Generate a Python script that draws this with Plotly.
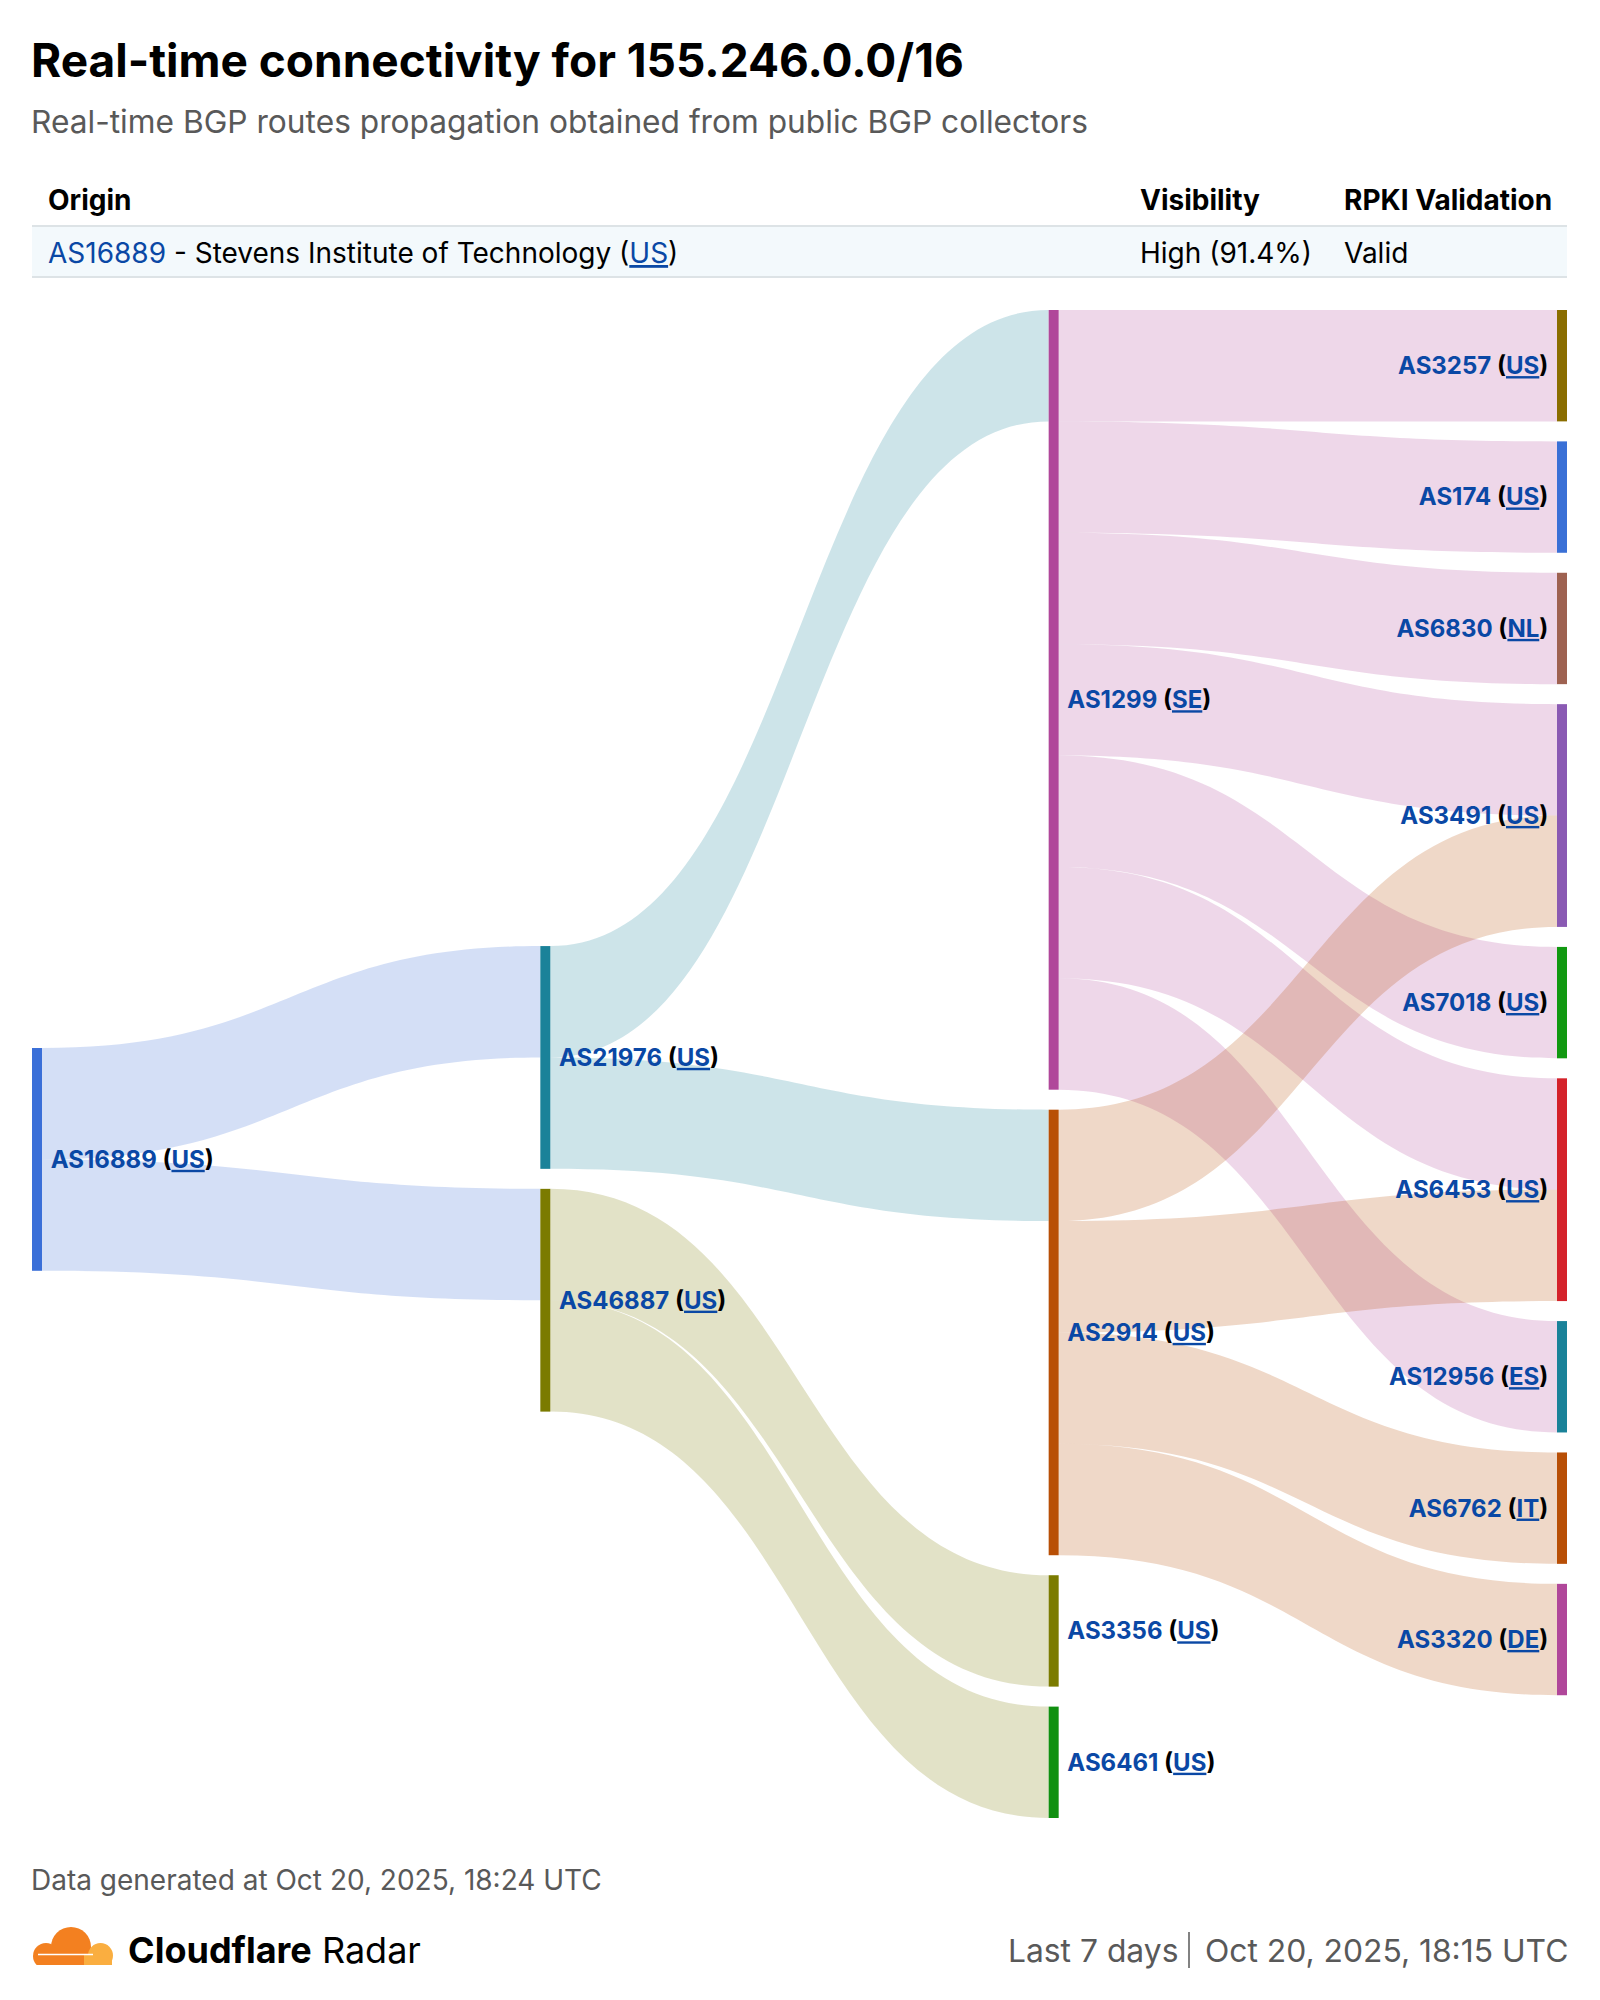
import plotly.graph_objects as go

# ---------------- data ----------------
node_asns = ["AS16889", "AS21976", "AS46887", "AS1299", "AS2914", "AS3356", "AS6461",
             "AS3257", "AS174", "AS6830", "AS3491", "AS7018", "AS6453", "AS12956",
             "AS6762", "AS3320"]
node_countries = ["US", "US", "US", "SE", "US", "US", "US",
                  "US", "US", "NL", "US", "US", "US", "ES", "IT", "DE"]
node_colors = ["#3A6FD8", "#1A8299", "#7B7B00", "#B0479A", "#B84F06", "#7B7B00", "#109010",
               "#8A6D00", "#3A70D6", "#9E6251", "#8A5AB3", "#119911", "#D4222A", "#1A8299",
               "#B84F06", "#B0479A"]

link_source = ["AS16889", "AS16889", "AS21976", "AS21976", "AS46887", "AS46887",
               "AS1299", "AS1299", "AS1299", "AS1299", "AS1299", "AS1299", "AS1299",
               "AS2914", "AS2914", "AS2914", "AS2914"]
link_target = ["AS21976", "AS46887", "AS1299", "AS2914", "AS3356", "AS6461",
               "AS3257", "AS174", "AS6830", "AS3491", "AS7018", "AS6453", "AS12956",
               "AS3491", "AS6453", "AS6762", "AS3320"]
link_value = [1, 1, 1, 1, 1, 1,
              1, 1, 1, 1, 1, 1, 1,
              1, 1, 1, 1]

title_text = "Real-time connectivity for 155.246.0.0/16"
subtitle_text = "Real-time BGP routes propagation obtained from public BGP collectors"
origin_asn = "AS16889"
origin_name = "Stevens Institute of Technology"
origin_country = "US"
visibility_text = "High (91.4%)"
rpki_text = "Valid"
generated_text = "Data generated at Oct 20, 2025, 18:24 UTC"
range_left = "Last 7 days"
range_right = "Oct 20, 2025, 18:15 UTC"

# ---------------- layout settings ----------------
W, H = 1584, 1984          # page adds an 8px body margin
OFF = 8
BLUE = "#0A48A5"
FONT = "Inter"
NODE_THICKNESS = 10
NODE_PAD = 20
SANKEY_LEFT, SANKEY_RIGHT = 32, 1567     # page pixels
SANKEY_TOP, SANKEY_BOTTOM = 310, 1818
# vertical start of each column's node stack, as a fraction of the sankey height
COLUMN_TOP = [0.4894, 0.4218, 0.0, 0.0]
NBSP = "\u00a0"


def px(x):
    return (x - OFF) / W


def py(y):
    return 1 - (y - OFF) / H


def hex_rgba(h, a):
    h = h.lstrip("#")
    r, g, b = int(h[0:2], 16), int(h[2:4], 16), int(h[4:6], 16)
    return f"rgba({r},{g},{b},{a})"


UNDERLINE = ("text-decoration-line:underline;text-decoration-style:dotted;"
             "text-decoration-thickness:1.5px;text-underline-offset:5px")


def cc_span(cc):
    return ("<span style='color:#000'>(</span>"
            f"<span style='{UNDERLINE}'>{cc}</span>"
            "<span style='color:#000'>)</span>")


idx = {a: i for i, a in enumerate(node_asns)}
src = [idx[s] for s in link_source]
tgt = [idx[t] for t in link_target]
n = len(node_asns)

# node values (max of in / out), column depth
val_in = [0] * n
val_out = [0] * n
for s, t, v in zip(src, tgt, link_value):
    val_out[s] += v
    val_in[t] += v
node_val = [max(a, b) for a, b in zip(val_in, val_out)]
depth = [0] * n
for _ in range(n):
    for s, t in zip(src, tgt):
        depth[t] = max(depth[t], depth[s] + 1)
ncol = max(depth) + 1
columns = [[i for i in range(n) if depth[i] == c] for c in range(ncol)]

sk_w = SANKEY_RIGHT - SANKEY_LEFT
sk_h = SANKEY_BOTTOM - SANKEY_TOP
pad_f = NODE_PAD / sk_h
ky = min((1 - (len(c) - 1) * pad_f) / sum(node_val[i] for i in c) for c in columns)

node_x = [0.0] * n
node_y = [0.0] * n
for c, members in enumerate(columns):
    xc = (c * (sk_w - NODE_THICKNESS) / (ncol - 1) + NODE_THICKNESS / 2) / sk_w
    y = COLUMN_TOP[c]
    for i in members:
        hgt = node_val[i] * ky
        node_x[i] = xc
        node_y[i] = y + hgt / 2
        y += hgt + pad_f

labels = []
for i, (a, c) in enumerate(zip(node_asns, node_countries)):
    core = f"{a} {cc_span(c)}"
    labels.append(core + NBSP if depth[i] == ncol - 1 else NBSP + core)
link_colors = [hex_rgba(node_colors[s], 0.22) for s in src]

fig = go.Figure(go.Sankey(
    arrangement="fixed",
    domain=dict(x=[px(SANKEY_LEFT), px(SANKEY_RIGHT)], y=[py(SANKEY_BOTTOM), py(SANKEY_TOP)]),
    node=dict(
        label=labels,
        color=node_colors,
        x=node_x,
        y=node_y,
        thickness=NODE_THICKNESS,
        pad=NODE_PAD,
        line=dict(width=0),
        align="left",
        hoverinfo="none",
    ),
    link=dict(
        source=src,
        target=tgt,
        value=link_value,
        color=link_colors,
        hoverinfo="none",
    ),
    textfont=dict(family=FONT, size=24, color=BLUE, weight="bold", shadow="none"),
))

annotations = [
    dict(text=f"<b>{title_text}</b>", x=px(29), y=py(60), font=dict(size=46, color="#000")),
    dict(text=subtitle_text, x=px(29), y=py(121), font=dict(size=31.7, color="#595959")),
    dict(text="<b>Origin</b>", x=px(46), y=py(200), font=dict(size=28, color="#000")),
    dict(text="<b>Visibility</b>", x=px(1138), y=py(200), font=dict(size=28, color="#000")),
    dict(text="<b>RPKI Validation</b>", x=px(1342), y=py(200), font=dict(size=28, color="#000")),
    dict(text=(f"<span style='color:{BLUE}'>{origin_asn}</span> - {origin_name} ("
               f"<span style='color:{BLUE};{UNDERLINE}'>{origin_country}</span>)"),
         x=px(46), y=py(253), font=dict(size=28, color="#000")),
    dict(text=visibility_text, x=px(1138), y=py(253), font=dict(size=28, color="#000")),
    dict(text=rpki_text, x=px(1342), y=py(253), font=dict(size=28, color="#000")),
    dict(text=generated_text, x=px(29), y=py(1880), font=dict(size=28, color="#595959")),
    dict(text="<b>Cloudflare</b> Radar", x=px(126), y=py(1950), font=dict(size=36, color="#000")),
    dict(text=range_right, x=px(1570), y=py(1950), xanchor="right", font=dict(size=31.8, color="#595959")),
    dict(text=range_left, x=px(1180), y=py(1950), xanchor="right", font=dict(size=31.8, color="#595959")),
]
for a in annotations:
    a.setdefault("xanchor", "left")
    a.update(xref="paper", yref="paper", yanchor="middle", showarrow=False)
    a["font"]["family"] = FONT

shapes = [
    # table row background and rules
    dict(type="rect", x0=px(32), x1=px(1567), y0=py(277), y1=py(226),
         fillcolor="#F3F9FC", line=dict(width=0), layer="below"),
    dict(type="line", x0=px(32), x1=px(1567), y0=py(226), y1=py(226),
         line=dict(color="#DDE3E6", width=2)),
    dict(type="line", x0=px(32), x1=px(1567), y0=py(277), y1=py(277),
         line=dict(color="#DDE3E6", width=2)),
    # separator in the footer range text
    dict(type="line", x0=px(1189), x1=px(1189), y0=py(1968), y1=py(1932),
         line=dict(color="#595959", width=1.5)),
    # Cloudflare cloud logo
    dict(type="circle", x0=px(51), x1=px(91), y0=py(1967), y1=py(1927),
         fillcolor="#F38020", line=dict(width=0)),
    dict(type="circle", x0=px(33), x1=px(59), y0=py(1969), y1=py(1943),
         fillcolor="#F38020", line=dict(width=0)),
    dict(type="rect", x0=px(44), x1=px(96), y0=py(1965), y1=py(1950),
         fillcolor="#F38020", line=dict(width=0)),
    dict(type="circle", x0=px(88), x1=px(113), y0=py(1968), y1=py(1943),
         fillcolor="#FAAE40", line=dict(width=0)),
    dict(type="rect", x0=px(84), x1=px(112), y0=py(1965), y1=py(1955),
         fillcolor="#FAAE40", line=dict(width=0)),
    dict(type="rect", x0=px(28), x1=px(118), y0=py(1976), y1=py(1965),
         fillcolor="#FFFFFF", line=dict(width=0)),
    dict(type="line", x0=px(38), x1=px(93), y0=py(1954.5), y1=py(1954.5),
         line=dict(color="#FFFFFF", width=1.6)),
]
for s in shapes:
    s.update(xref="paper", yref="paper")

fig.update_layout(
    width=W, height=H,
    margin=dict(l=0, r=0, t=0, b=0),
    paper_bgcolor="#FFFFFF",
    plot_bgcolor="#FFFFFF",
    font=dict(family=FONT, color="#000"),
    annotations=annotations,
    shapes=shapes,
)

fig.write_html("out.html")
